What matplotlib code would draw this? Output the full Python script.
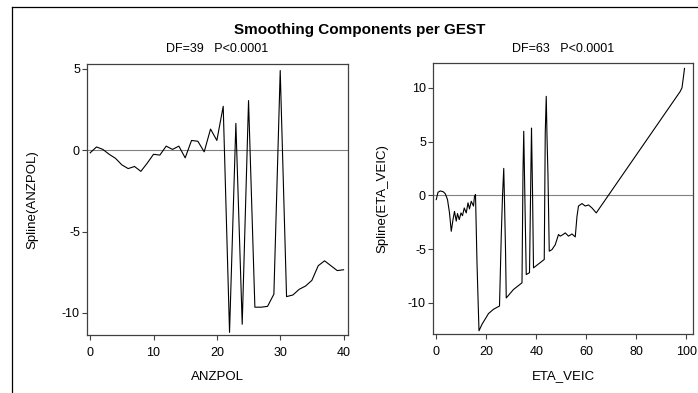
import matplotlib
matplotlib.use("Agg")
import matplotlib.pyplot as plt
from matplotlib.lines import Line2D

plt.rcParams['font.family'] = ['Liberation Sans', 'DejaVu Sans']
plt.rcParams['axes.unicode_minus'] = False

# ANZPOL spline component
anz_x = list(range(0, 41))
anz_y = [-0.16, 0.2, 0.05, -0.25, -0.5, -0.9, -1.13, -1.0, -1.3, -0.8,
         -0.25, -0.3, 0.25, 0.05, 0.25, -0.47, 0.6, 0.55, -0.1, 1.3,
         0.6, 2.7, -11.2, 1.65, -10.7, 3.05, -9.65, -9.65, -9.6, -8.85,
         4.9, -9.0, -8.9, -8.55, -8.35, -8.0, -7.1, -6.8, -7.1, -7.4,
         -7.35]

# ETA_VEIC spline component
eta_x = [0, 0.7, 1.6, 2.7, 3.6, 4.5, 5.3, 6.0, 6.7, 7.3, 8.0, 8.5, 9.2, 9.9,
         10.5, 11.2, 12.0, 12.7, 13.3, 14.0, 14.9, 15.3, 15.7, 16.3, 16.8,
         17.1, 18.3, 19.6, 20.9, 22.9, 25.3, 26.0, 26.5, 27.0, 27.3, 27.7,
         28.0, 30.9, 34.3, 34.7, 35.0, 35.6, 36.0, 37.3, 37.9, 38.1, 38.5,
         38.9, 43.2, 43.6, 44.0, 44.3, 44.7, 45.2, 46.3, 47.6, 48.9, 49.6,
         50.7, 51.6, 52.9, 54.3, 55.6, 56.3, 56.9, 58.3, 59.6, 60.9, 62.3,
         64.0, 97.6, 98.3, 98.9, 99.3]
eta_y = [-0.4, 0.28, 0.4, 0.34, 0.15, -0.4, -1.64, -3.35, -2.26, -1.5, -2.4,
         -1.7, -2.26, -1.64, -1.9, -1.18, -1.64, -0.7, -1.27, -0.56, -1.0,
         -0.1, 0.06, -6.3, -10.3, -12.6, -12.0, -11.5, -11.0, -10.6, -10.3,
         -3.8, -0.1, 2.5, -0.55, -5.0, -9.55, -8.76, -8.14, 2.2, 5.95, -2.26,
         -7.37, -7.2, 3.0, 6.25, 0.5, -6.75, -5.97, 5.8, 9.2, 5.5, 1.76,
         -5.2, -5.05, -4.6, -3.65, -3.8, -3.65, -3.5, -3.8, -3.6, -3.87,
         -1.95, -1.0, -0.77, -1.0, -0.9, -1.18, -1.64, 9.66, 10.0, 11.05,
         11.8]

fig = plt.figure(figsize=(6.98, 3.93), dpi=100)
W, H = 698, 393

def px_axes(l, t, r, b):
    return fig.add_axes([l / W, 1 - b / H, (r - l) / W, (b - t) / H])

ax1 = px_axes(87, 64, 348, 335)
ax2 = px_axes(433, 63, 693, 334)

panels = [
    (ax1, anz_x, anz_y, (-0.5, 40.7), (-11.36, 5.3), [0, 10, 20, 30, 40], [-10, -5, 0, 5],
     'ANZPOL', 'Spline(ANZPOL)', -0.188),
    (ax2, eta_x, eta_y, (-1.3, 102.7), (-12.9, 12.3), [0, 20, 40, 60, 80, 100], [-10, -5, 0, 5, 10],
     'ETA_VEIC', 'Spline(ETA_VEIC)', -0.173),
]

for ax, x, y, xl, yl, xt, yt, xlab, ylab, ylx in panels:
    ax.axhline(0, color='#808080', lw=0.8)
    ax.plot(x, y, color='black', lw=0.8)
    ax.set_xlim(*xl)
    ax.set_ylim(*yl)
    ax.set_xticks(xt)
    ax.set_yticks(yt)
    for s in ax.spines.values():
        s.set_color('#404040')
        s.set_linewidth(0.9)
    ax.tick_params(axis='both', direction='out', length=3.6, width=0.8,
                   color='#404040', labelsize=9)
    ax.tick_params(axis='x', pad=5)
    ax.tick_params(axis='y', pad=1.5)
    ax.set_xlabel(xlab, fontsize=9.5)
    ax.set_ylabel(ylab, fontsize=9.5)
    ax.xaxis.set_label_coords(0.5, -0.133)
    ax.yaxis.set_label_coords(ylx, 0.5)

fig.text(360 / W, 1 - 30 / H, 'Smoothing Components per GEST',
         ha='center', va='center', fontsize=11, fontweight='bold')
fig.text(217 / W, 1 - 49 / H, 'DF=39   P<0.0001', ha='center', va='center', fontsize=9)
fig.text(563 / W, 1 - 49 / H, 'DF=63   P<0.0001', ha='center', va='center', fontsize=9)

# frame lines around the chart (left and top visible)
fig.add_artist(Line2D([12 / W, 12 / W], [0, 1 - 7 / H], color='black', lw=0.9))
fig.add_artist(Line2D([12 / W, 1], [1 - 7 / H, 1 - 7 / H], color='black', lw=0.9))

fig.savefig('out.png', dpi=100)
